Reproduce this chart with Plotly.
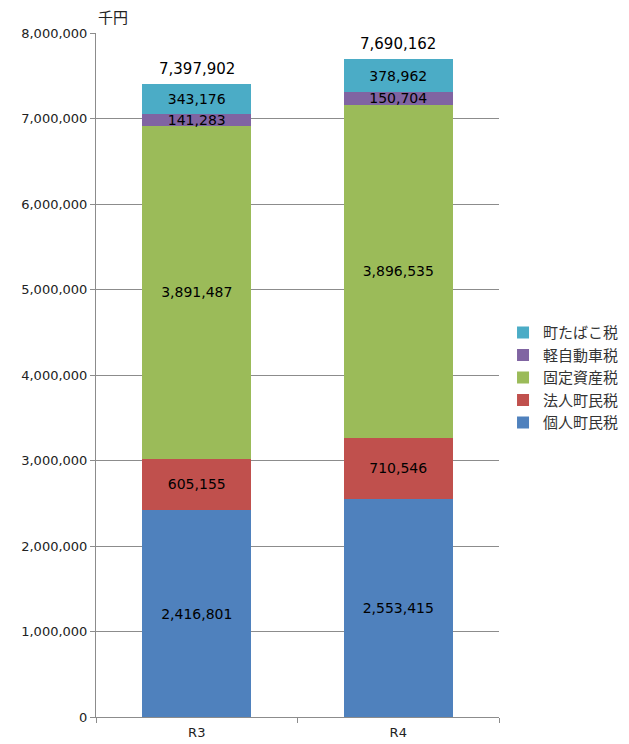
import plotly.graph_objects as go

categories = ["R3", "R4"]
kojin = [2416801, 2553415]
hojin = [605155, 710546]
kotei = [3891487, 3896535]
keijidosha = [141283, 150704]
tabako = [343176, 378962]
totals = [7397902, 7690162]

series = [
    ("個人町民税", kojin, "#4F81BD"),
    ("法人町民税", hojin, "#C0504D"),
    ("固定資産税", kotei, "#9BBB59"),
    ("軽自動車税", keijidosha, "#8064A2"),
    ("町たばこ税", tabako, "#4BACC6"),
]

num_font = "DejaVu Sans, Verdana, sans-serif"
jp_font = "Noto Sans CJK JP, sans-serif"

fig = go.Figure()
for name, vals, color in series:
    fig.add_trace(go.Bar(
        x=categories, y=vals, name=name,
        marker=dict(color=color, line=dict(width=0)),
        texttemplate="%{y:,}",
        textposition="inside", insidetextanchor="middle",
        textfont=dict(family=num_font, size=14, color="black"),
        width=0.54,
    ))

# stack totals above each bar
for cat, tot in zip(categories, totals):
    fig.add_annotation(
        x=cat, y=tot, text=f"{tot:,}", showarrow=False,
        yanchor="bottom", yshift=4,
        font=dict(family=num_font, size=15, color="black"),
    )

fig.update_layout(
    barmode="stack",
    width=629, height=744,
    margin=dict(l=96, r=130, t=33, b=27, autoexpand=False),
    plot_bgcolor="white", paper_bgcolor="white",
    uniformtext=dict(mode="show", minsize=14),
    legend=dict(
        traceorder="reversed", x=1.01, y=0.496, yanchor="middle", xanchor="left",
        font=dict(family=jp_font, size=15, color="#333"),
        itemwidth=30, tracegroupgap=0,
    ),
)

fig.update_yaxes(
    range=[0, 8000000], dtick=1000000, tickformat=",",
    showgrid=True, gridcolor="#8c8c8c", gridwidth=1,
    showline=True, linecolor="#8c8c8c", linewidth=1,
    ticks="outside", ticklen=5, tickcolor="#8c8c8c",
    tickfont=dict(family=num_font, size=13, color="#222"),
    zeroline=False,
)
fig.update_xaxes(
    showline=True, linecolor="#8c8c8c", linewidth=1,
    ticks="outside", ticklen=5, tickcolor="#8c8c8c",
    tickson="boundaries", ticklabelstandoff=3,
    tickfont=dict(family=num_font, size=13, color="#222"),
)

fig.add_annotation(
    text="千円", xref="paper", yref="paper", x=0.0, y=1.0,
    xanchor="left", yanchor="bottom", yshift=4, showarrow=False,
    font=dict(family=jp_font, size=15, color="#222"),
)

fig.write_html("out.html")
